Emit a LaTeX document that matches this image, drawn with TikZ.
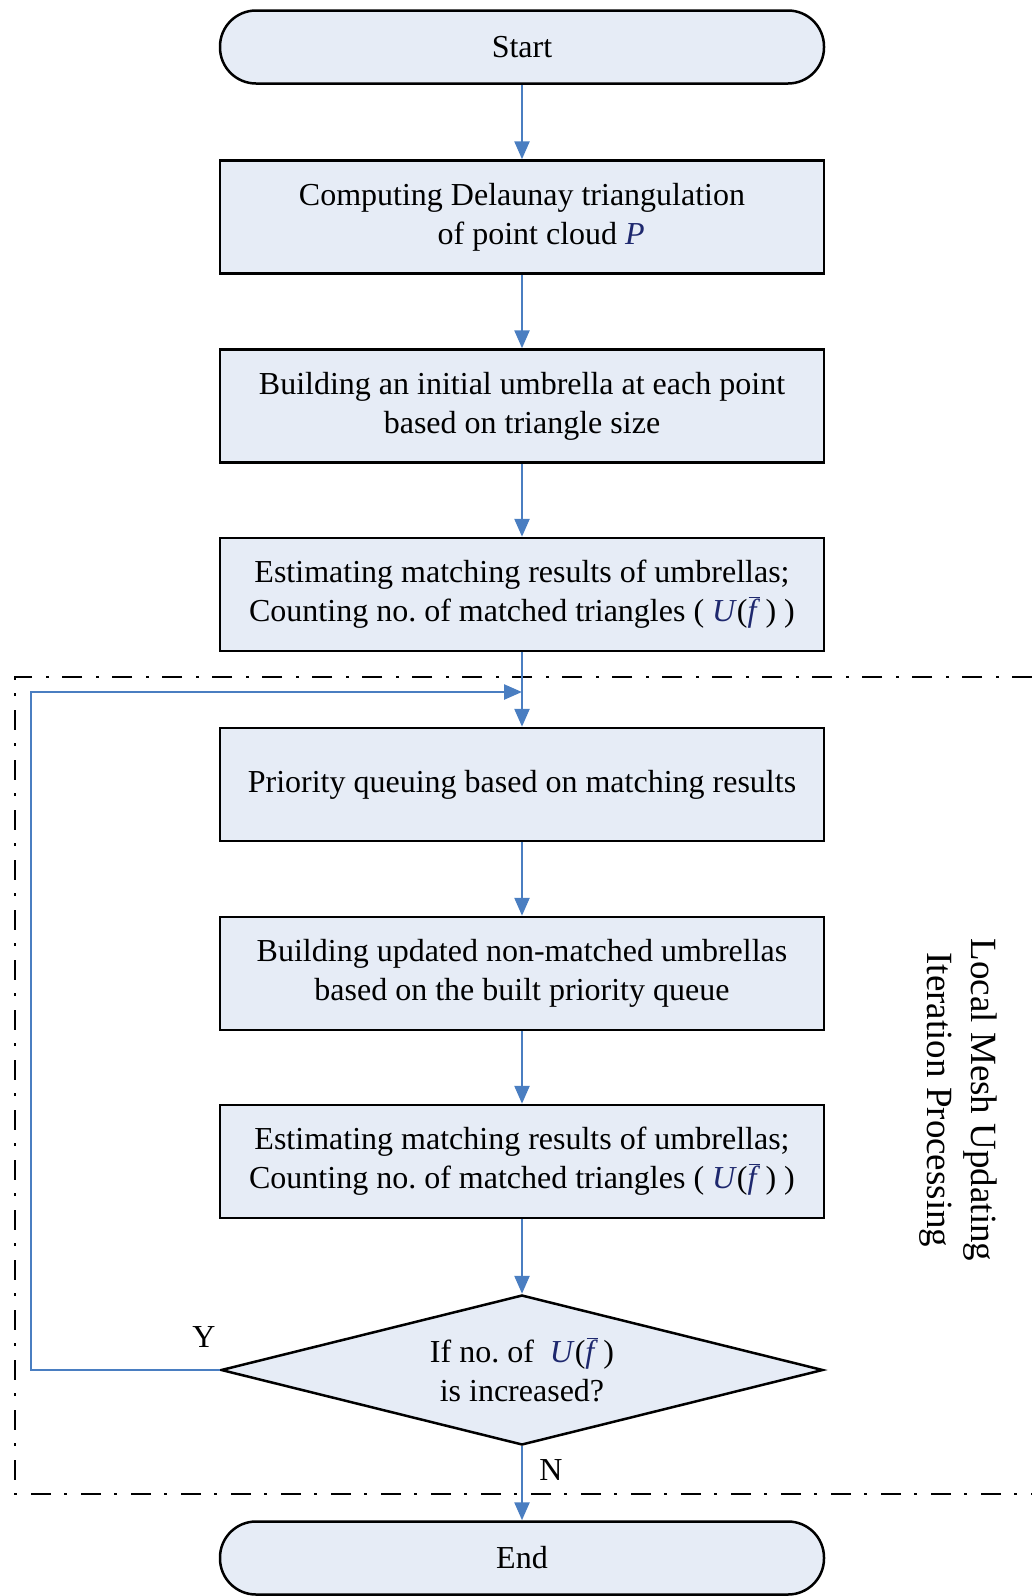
\documentclass[tikz,border=0pt]{standalone}
\usepackage{fontspec}
\setmainfont{Liberation Serif}
\usetikzlibrary{shapes.geometric,arrows.meta}
\definecolor{boxfill}{RGB}{230,236,246}
\definecolor{flowblue}{RGB}{74,126,193}
\definecolor{mathc}{RGB}{30,40,110}
% italic f with an overbar drawn as a thin rule
\newcommand{\fbarred}{\textit{f}\llap{\raisebox{0.74em}{\rule{0.36em}{0.045em}}\hspace{0.0em}}}
\newcommand{\Uf}{\textcolor{mathc}{\textit{U}}(\textcolor{mathc}{\fbarred}\,)}
\tikzset{
  x=1pt, y=-1pt,
  every node/.style={font=\fontsize{32}{39}\selectfont\frenchspacing, text=black},
  stepbox/.style={draw=black, line width=2.5pt, fill=boxfill, minimum width=604pt, minimum height=113pt, inner sep=0pt, align=center},
  termbox/.style={draw=black, line width=2.5pt, fill=boxfill, rounded corners=36pt, minimum width=604pt, minimum height=73pt, inner sep=0pt},
  decision/.style={diamond, draw=black, line width=2.5pt, fill=boxfill, minimum width=602pt, minimum height=150pt, aspect=4, inner sep=0pt, align=center},
  flow/.style={draw=flowblue, line width=2.5pt, -{Triangle[length=18pt,width=15pt]}},
  frame/.style={draw=black, line width=2.8pt, dash pattern=on 20pt off 13pt on 3pt off 14pt},
}
\begin{document}
\begin{tikzpicture}
\useasboundingbox (0,0) rectangle (1032,1596);

% dash-dot frame of the iteration loop (open to the right)
\draw[frame] (1032,677) -- (15,677) -- (15,1494) -- (1032,1494);

\node[termbox] (start) at (522,47) {Start};
\node[stepbox] (s1) at (522,217) {Computing Delaunay triangulation\\ \hspace*{1.2em}of point cloud \textcolor{mathc}{\textit{P}}};
\node[stepbox] (s2) at (522,406) {Building an initial umbrella at each point\\ based on triangle size};
\node[stepbox] (s3) at (522,594.5) {Estimating matching results of umbrellas;\\ Counting no. of matched triangles ( \Uf\ )};
\node[stepbox] (s4) at (522,784.5) {Priority queuing based on matching results};
\node[stepbox] (s5) at (522,973.5) {Building updated non-matched umbrellas\\ based on the built priority queue};
\node[stepbox] (s6) at (522,1161.5) {Estimating matching results of umbrellas;\\ Counting no. of matched triangles ( \Uf\ )};
\node[decision] (dec) at (522,1370) {If no. of \ \Uf\\ is increased?};
\node[termbox] (end) at (522,1558) {End};

\coordinate (join) at (522,692);
\coordinate (loopbot) at (31,1370);
\coordinate (looptop) at (31,692);

\draw[flow] (start) -- (s1);
\draw[flow] (s1) -- (s2);
\draw[flow] (s2) -- (s3);
\draw[flow] (s3) -- (s4);
\draw[flow] (s4) -- (s5);
\draw[flow] (s5) -- (s6);
\draw[flow] (s6) -- (dec);
\draw[flow] (dec) -- (end);
\draw[flow] (dec.west) -- (loopbot) -- (looptop) -- (join);

\node (ylab) at (204,1337) {Y};
\node (nlab) at (551,1470) {N};

\node[rotate=-90, align=center, font=\fontsize{37}{44}\selectfont] (loopname) at (958,1100) {Local Mesh Updating\\ Iteration Processing};
\end{tikzpicture}
\end{document}
